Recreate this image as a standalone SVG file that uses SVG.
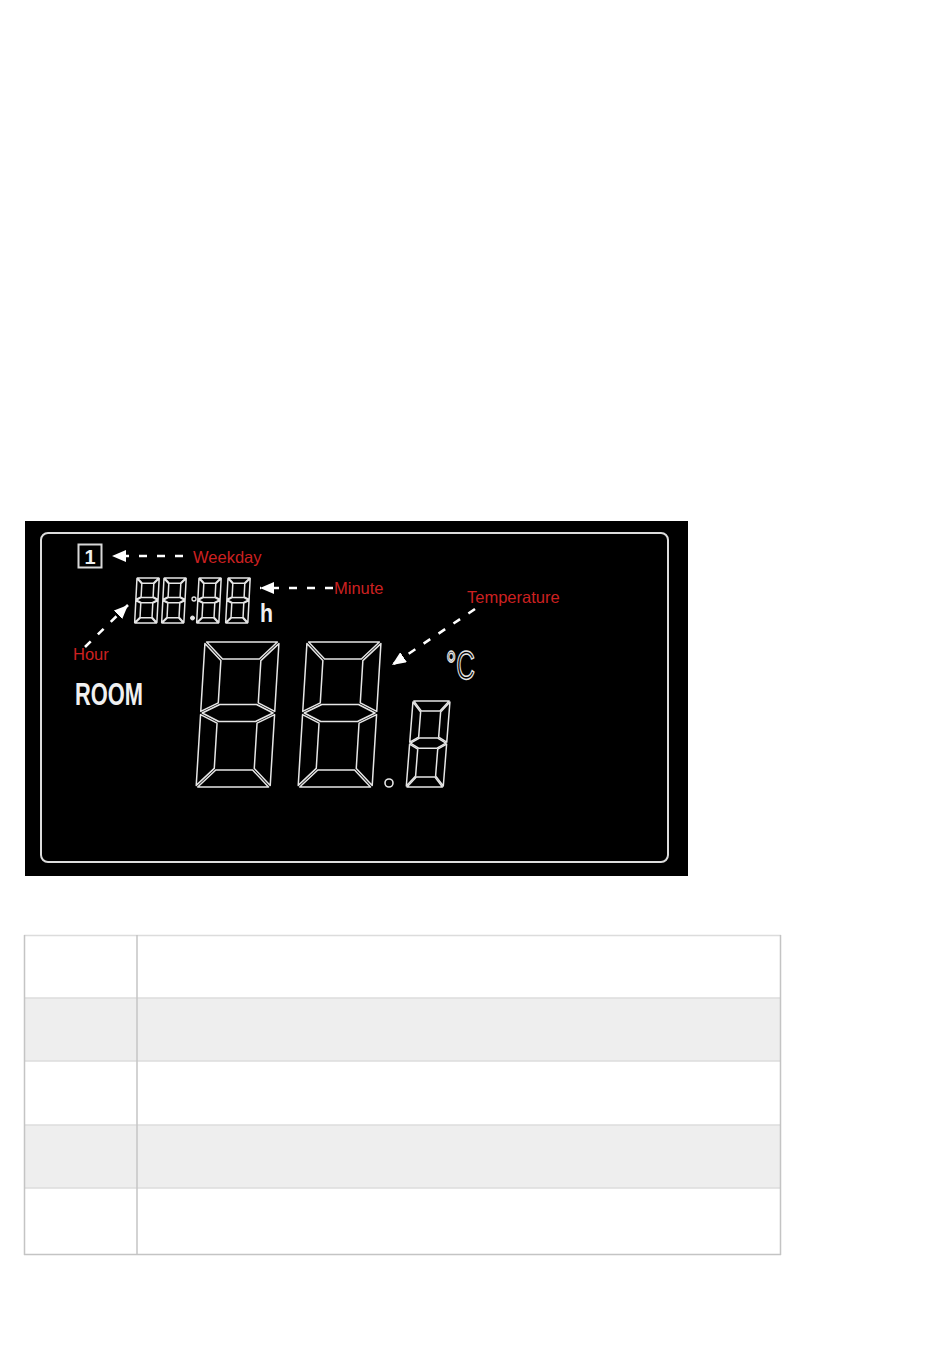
<svg xmlns="http://www.w3.org/2000/svg" xmlns:xlink="http://www.w3.org/1999/xlink" width="950" height="1368" viewBox="0 0 950 1368">
<style>
.seg polygon{fill:none;stroke:#e6e6e6;stroke-width:1.5;stroke-linejoin:round;vector-effect:non-scaling-stroke}
.tseg polygon{stroke-width:1.7}
.lbl{font-family:"Liberation Sans",Arial,sans-serif;font-size:16.5px;fill:#cc2020}
.wt{font-family:"Liberation Sans",Arial,sans-serif;font-weight:bold;fill:#f0f0f0}
.conn{stroke:#fff;stroke-width:2.6;fill:none;stroke-dasharray:8 10}
.row{stroke:#dcdcdc;stroke-width:1.5}
.col{stroke:#c4c4c4;stroke-width:1.5}
</style>
<defs>
<marker id="ah" markerUnits="userSpaceOnUse" markerWidth="14" markerHeight="12" refX="14" refY="6" orient="auto">
<path d="M0,0 L14,6 L0,12 z" fill="#fff"/>
</marker>
<g id="dig" class="seg">
<polygon points="1.6,0 72.4,0 55.4,17 18.6,17"/>
<polygon points="74,1.6 74,69.4 57,60.9 57,18.6"/>
<polygon points="74,72.6 74,143.4 57,126.4 57,81.1"/>
<polygon points="1.6,145 18.6,128 55.4,128 72.4,145"/>
<polygon points="0,72.6 17,81.1 17,126.4 0,143.4"/>
<polygon points="0,1.6 17,18.6 17,60.9 0,69.4"/>
<polygon points="1.6,71 18.6,62.5 55.4,62.5 72.4,71 55.4,79.5 18.6,79.5"/>
</g>
</defs>
<rect width="950" height="1368" fill="#fff"/>
<g id="lcd">
<rect x="25" y="521" width="663" height="355" fill="#000"/>
<rect x="41" y="533" width="627" height="329" rx="7" fill="none" stroke="#dcdcdc" stroke-width="2"/>
</g>
<g id="weekday-icon">
<rect x="78.5" y="544.5" width="23" height="23" fill="none" stroke="#d8d8d8" stroke-width="2"/>
<text class="wt" x="90" y="563.5" font-size="20" text-anchor="middle">1</text>
</g>
<g id="time-digits" class="tseg">
<use xlink:href="#dig" href="#dig" transform="translate(137,578) skewX(-3) scale(0.3,0.31)"/>
<use xlink:href="#dig" href="#dig" transform="translate(164,578) skewX(-3) scale(0.3,0.31)"/>
<circle cx="194" cy="599" r="2" fill="none" stroke="#e6e6e6" stroke-width="1.3"/>
<circle cx="192.5" cy="618" r="2" fill="#e6e6e6" stroke="#e6e6e6" stroke-width="1"/>
<use xlink:href="#dig" href="#dig" transform="translate(199,578) skewX(-3) scale(0.3,0.31)"/>
<use xlink:href="#dig" href="#dig" transform="translate(228,578) skewX(-3) scale(0.3,0.31)"/>
<text class="wt" x="260" y="622" font-size="26" textLength="13" lengthAdjust="spacingAndGlyphs">h</text>
</g>
<g id="room">
<text class="wt" x="75" y="705" font-size="32" textLength="68" lengthAdjust="spacingAndGlyphs">ROOM</text>
</g>
<g id="temperature-digits">
<use xlink:href="#dig" href="#dig" transform="translate(205,642) skewX(-3.5)"/>
<use xlink:href="#dig" href="#dig" transform="translate(307,642) skewX(-3.5)"/>
<circle cx="389" cy="783" r="4" fill="none" stroke="#e6e6e6" stroke-width="1.6"/>
<use xlink:href="#dig" href="#dig" transform="translate(413,701) skewX(-4.5) scale(0.5,0.593)"/>
</g>
<g id="unit">
<text x="446" y="679" font-family="'Liberation Sans',Arial,sans-serif" font-size="40" fill="none" stroke="#e6e6e6" stroke-width="1.5" textLength="29" lengthAdjust="spacingAndGlyphs" style="text-rendering:geometricPrecision">°C</text>
</g>
<g id="labels">
<text class="lbl" x="193" y="563">Weekday</text>
<text class="lbl" x="334" y="594">Minute</text>
<text class="lbl" x="467" y="603">Temperature</text>
<text class="lbl" x="73" y="660">Hour</text>
</g>
<g id="connectors">
<path class="conn" d="M183,556 L112,556" marker-end="url(#ah)"/>
<path class="conn" d="M333,588 L260,588" stroke-dasharray="9 11" marker-end="url(#ah)"/>
<path class="conn" d="M85,647 L128,605" marker-end="url(#ah)"/>
<path class="conn" d="M475,609 L392,665" marker-end="url(#ah)"/>
</g>
<g id="table">
<rect x="24" y="998" width="757" height="63" fill="#eeeeee"/>
<rect x="24" y="1125" width="757" height="63" fill="#eeeeee"/>
<line class="row" x1="24" y1="935.5" x2="781" y2="935.5"/>
<line class="row" x1="24" y1="998" x2="781" y2="998"/>
<line class="row" x1="24" y1="1061" x2="781" y2="1061"/>
<line class="row" x1="24" y1="1125" x2="781" y2="1125"/>
<line class="row" x1="24" y1="1188" x2="781" y2="1188"/>
<line class="col" x1="24" y1="1254.5" x2="781" y2="1254.5"/>
<line class="col" x1="24.5" y1="935" x2="24.5" y2="1255"/>
<line class="col" x1="137" y1="935" x2="137" y2="1255"/>
<line class="col" x1="780.5" y1="935" x2="780.5" y2="1255"/>
</g>
</svg>
